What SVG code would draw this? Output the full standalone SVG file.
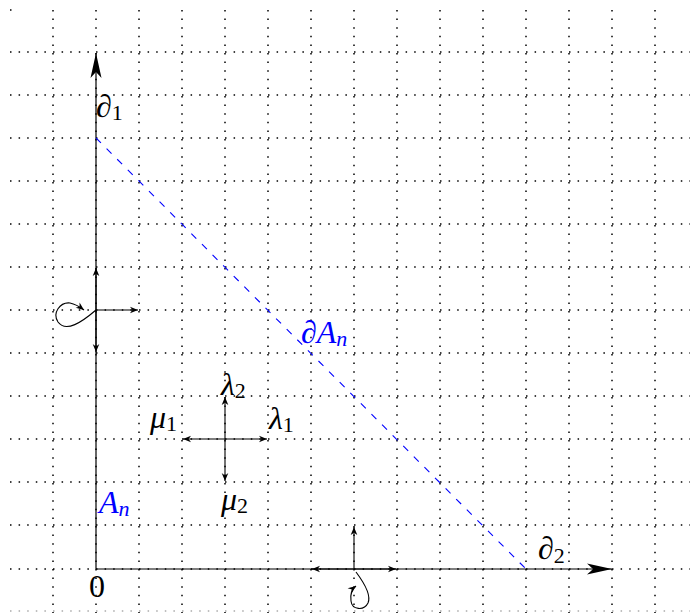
<svg xmlns="http://www.w3.org/2000/svg" width="690" height="613" viewBox="0 0 690 613">
<style>
.grid{stroke:#000;stroke-width:1.5;stroke-dasharray:1.5 7.1;fill:none}
.ax{stroke:#000;stroke-width:1.2;fill:none}
.ln{stroke:#000;stroke-width:1.1;fill:none}
.bd{stroke:#0000ff;stroke-width:1.1;stroke-dasharray:7 8;fill:none}
.t{font-family:"Liberation Serif","Times New Roman",serif;font-style:italic;font-size:32px;fill:#000}
.up{font-style:normal}
.sub{font-size:22px;font-style:normal}
.subi{font-size:22px;font-style:italic}
.blue{fill:#0000ff}
</style>
<defs>
<marker id="big" markerUnits="userSpaceOnUse" markerWidth="30" markerHeight="14" refX="0" refY="0" viewBox="-26 -7 30 14" orient="auto">
<path d="M0,0 L-25,-5.5 Q-20,-1 -19,0 Q-20,1 -25,5.5 Z" fill="#000"/>
</marker>
<marker id="sm" markerUnits="userSpaceOnUse" markerWidth="12" markerHeight="10" refX="0" refY="0" viewBox="-10 -5 12 10" orient="auto">
<path d="M0,0 L-8,-3.3 Q-6,-0.5 -5.5,0 Q-6,0.5 -8,3.3 Z" fill="#000"/>
</marker>
</defs>
<g id="grid">
<path class="grid" d="M10,52H690M10,95H690M10,138H690M10,181H690M10,224H690M10,267H690M10,310H690M10,353H690M10,396H690M10,439H690M10,482H690M10,525H690M10,569H690"/>
<path class="grid" style="stroke:#aaa" d="M10,611H690"/>
<path class="grid" d="M53,10V613M96,10V613M139,10V613M182,10V613M225,10V613M268,10V613M311,10V613M354,10V613M397,10V613M440,10V613M483,10V613M526,10V613M569,10V613M612,10V613M655,10V613"/>
<path class="grid" d="M10,10h1.5"/>
</g>
<g id="connectors">
<path class="ax" d="M96,569V53" marker-end="url(#big)"/>
<path class="ax" d="M96,569H612" marker-end="url(#big)"/>
<path class="bd" d="M96,138L526,569"/>
<path class="ln" d="M96,310V268" marker-end="url(#sm)"/>
<path class="ln" d="M96,310V352" marker-end="url(#sm)"/>
<path class="ln" d="M96,310H138" marker-end="url(#sm)"/>
<path class="ln" d="M96,310C82,322 66,333 58,322C52,313 60,302 70,303C75,304 80,307 84,310" marker-end="url(#sm)"/>
<path class="ln" d="M354,569V527" marker-end="url(#sm)"/>
<path class="ln" d="M354,569H312" marker-end="url(#sm)"/>
<path class="ln" d="M354,569H396" marker-end="url(#sm)"/>
<path class="ln" d="M356,572C362,580 372,594 368,603C364,611 352,610 351,601C350,594 352,589 356,586" marker-end="url(#sm)"/>
<path class="ln" d="M225,439H183" marker-end="url(#sm)"/>
<path class="ln" d="M225,439H267" marker-end="url(#sm)"/>
<path class="ln" d="M225,439V397" marker-end="url(#sm)"/>
<path class="ln" d="M225,439V481" marker-end="url(#sm)"/>
</g>
<g id="label-d1"><text class="t" x="96" y="117">∂<tspan class="sub" dy="3">1</tspan></text></g>
<g id="label-d2"><text class="t" x="538" y="559">∂<tspan class="sub" dy="4">2</tspan></text></g>
<g id="label-dAn"><text class="t blue" x="301" y="343">∂A<tspan class="subi" dy="3">n</tspan></text></g>
<g id="label-An"><text class="t blue" x="99" y="513">A<tspan class="subi" dy="3">n</tspan></text></g>
<g id="label-0"><text class="t up" x="89" y="597">0</text></g>
<g id="label-l2"><text class="t" x="221" y="395">λ<tspan class="sub" dy="3">2</tspan></text></g>
<g id="label-m1"><text class="t" x="150" y="428">μ<tspan class="sub" dy="3">1</tspan></text></g>
<g id="label-l1"><text class="t" x="269" y="429">λ<tspan class="sub" dy="3">1</tspan></text></g>
<g id="label-m2"><text class="t" x="221" y="510">μ<tspan class="sub" dy="3">2</tspan></text></g>
</svg>
